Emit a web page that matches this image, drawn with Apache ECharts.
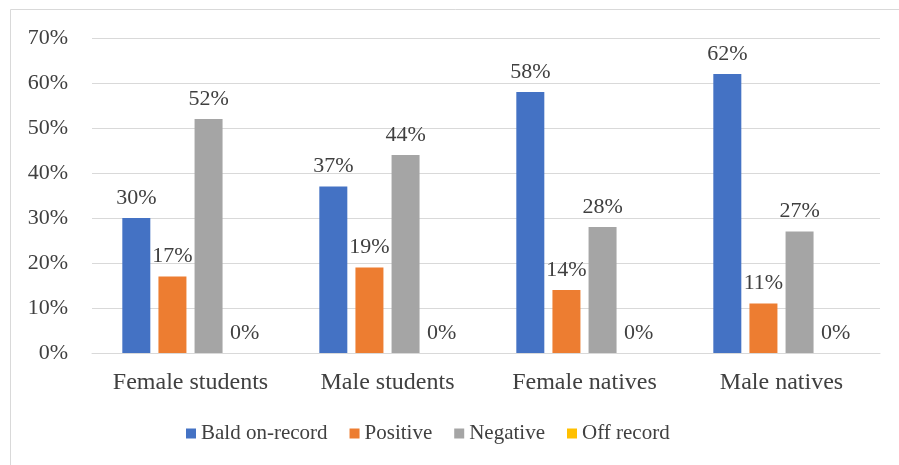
<!DOCTYPE html>
<html>
<head>
<meta charset="utf-8">
<script src="https://cdn.jsdelivr.net/npm/echarts@6/dist/echarts.min.js"></script>
<style>
    html, body { margin: 0; padding: 0; background: #fff; }
    #chart { width: 899px; height: 465px; }
</style>
</head>
<body>
<div id="chart"></div>
<script>
    const categories = ['Female students', 'Male students', 'Female natives', 'Male natives']
    const baldOnRecord = [30, 37, 58, 62]
    const positive = [17, 19, 14, 11]
    const negative = [52, 44, 28, 27]
    const offRecord = [0, 0, 0, 0]
    const yTicks = [0, 10, 20, 30, 40, 50, 60, 70]

    const font = '"Liberation Serif", "Times New Roman", serif'

    function makeSeries(name, data, color) {
        return {
            name: name,
            type: 'bar',
            data: data,
            barWidth: 28,
            barGap: '29%',
            itemStyle: { color: color },
            label: {
                show: true,
                position: 'top',
                distance: 9,
                formatter: '{c}%',
                color: '#404040',
                fontFamily: font,
                fontSize: 22
            }
        }
    }

    const chart = echarts.init(document.getElementById('chart'))
    chart.setOption({
        animation: false,
        textStyle: { fontFamily: font },
        // outer frame: only the top and left edges fall inside the picture
        graphic: [{
            type: 'rect',
            shape: { x: 10.5, y: 9.5, width: 900, height: 470 },
            style: { fill: 'none', stroke: '#d9d9d9', lineWidth: 1 },
            silent: true
        }],
        grid: { left: 92, right: 19, top: 38, bottom: 112 },
        legend: {
            bottom: 16,
            left: 181,
            itemWidth: 10,
            itemHeight: 10,
            itemGap: 22,
            icon: 'rect',
            textStyle: { fontFamily: font, fontSize: 21, color: '#404040' },
            data: ['Bald on-record', 'Positive', 'Negative', 'Off record']
        },
        xAxis: {
            type: 'category',
            data: categories,
            axisTick: { show: false },
            axisLine: { lineStyle: { color: '#d9d9d9', width: 1 } },
            axisLabel: { interval: 0, fontFamily: font, fontSize: 24, color: '#404040', margin: 18 }
        },
        yAxis: {
            type: 'value',
            min: yTicks[0],
            max: yTicks[yTicks.length - 1],
            interval: 10,
            axisLine: { show: false },
            axisTick: { show: false },
            splitLine: { lineStyle: { color: '#d9d9d9', width: 1 } },
            axisLabel: {
                fontFamily: font, fontSize: 22, color: '#404040', margin: 24,
                formatter: v => v + '%'
            }
        },
        series: [
            makeSeries('Bald on-record', baldOnRecord, '#4472c4'),
            makeSeries('Positive', positive, '#ed7d31'),
            makeSeries('Negative', negative, '#a5a5a5'),
            makeSeries('Off record', offRecord, '#ffc000')
        ]
    })
</script>
</body>
</html>
